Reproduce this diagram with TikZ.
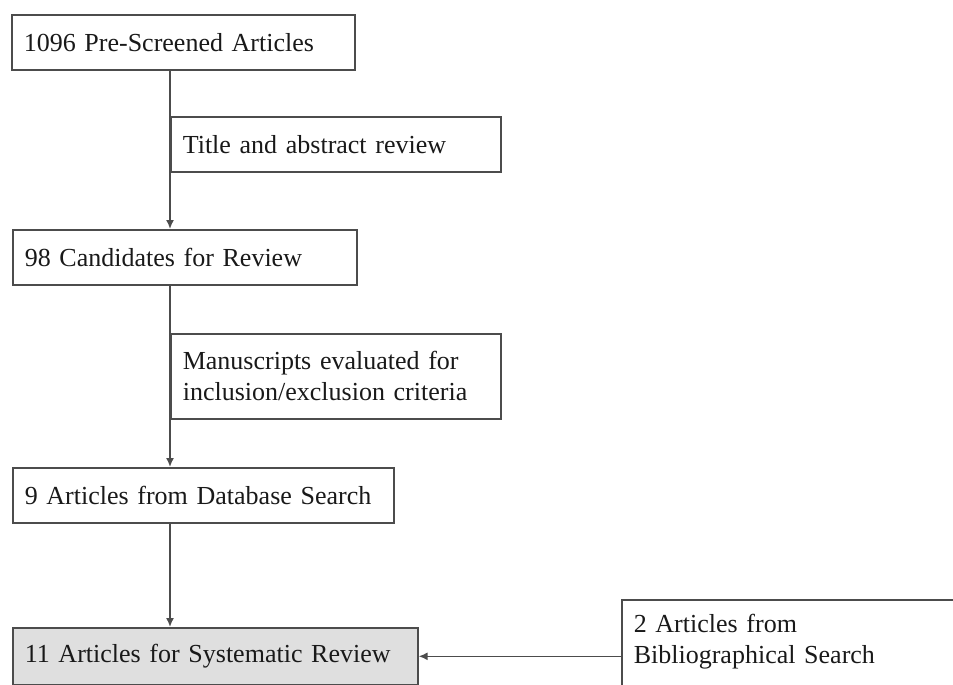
\documentclass[tikz,border=0pt]{standalone}
\usepackage{fontspec}
\setmainfont{Liberation Serif}
\usepackage{xcolor}
\usetikzlibrary{shapes,arrows.meta,positioning}

\tikzset{
  stage/.style={draw=black!70, line width=0.8pt, rectangle, anchor=north west,
    align=left, inner xsep=6pt, text=black!90,
    font=\fontsize{13pt}{15.6pt}\selectfont},
  flow/.style={draw=black!70, line width=0.8pt, ->}
}

\begin{document}
\begin{tikzpicture}[x=0.5pt, y=-0.5pt, >={Latex[length=4.5pt,width=4pt]}]
\useasboundingbox (0,0) rectangle (953,685);
\clip (0,0) rectangle (953,685);

% main stages
\node[stage, text width=159.5pt, minimum height=27.5pt] (screened) at (11,14) {1096 Pre-Screened Articles};
\node[stage, text width=160pt, minimum height=27.5pt] (candidates) at (12,229) {98 Candidates for Review};
\node[stage, text width=178.5pt, minimum height=27.5pt] (database) at (12,467) {9 Articles from Database Search};
\node[stage, text width=190.5pt, minimum height=28.5pt, fill=gray!25] (final) at (12,627) {11 Articles for Systematic Review};

% review steps
\node[stage, text width=153pt, minimum height=27.5pt] (abstract) at (170,116) {Title and abstract review};
\node[stage, text width=153pt, minimum height=42.5pt] (criteria) at (170,333) {Manuscripts evaluated for\\inclusion/exclusion criteria};

% extra articles
\node[stage, text width=168pt, minimum height=55pt] (biblio) at (621,599) {2 Articles from\\Bibliographical Search\\[0pt]\mbox{}};

\draw[flow] (screened.south -| abstract.west) -- (candidates.north -| abstract.west);
\draw[flow] (candidates.south -| abstract.west) -- (database.north -| abstract.west);
\draw[flow] (database.south -| abstract.west) -- (final.north -| abstract.west);
\draw[flow] (biblio.west |- final.east) -- (final.east);

\end{tikzpicture}
\end{document}
